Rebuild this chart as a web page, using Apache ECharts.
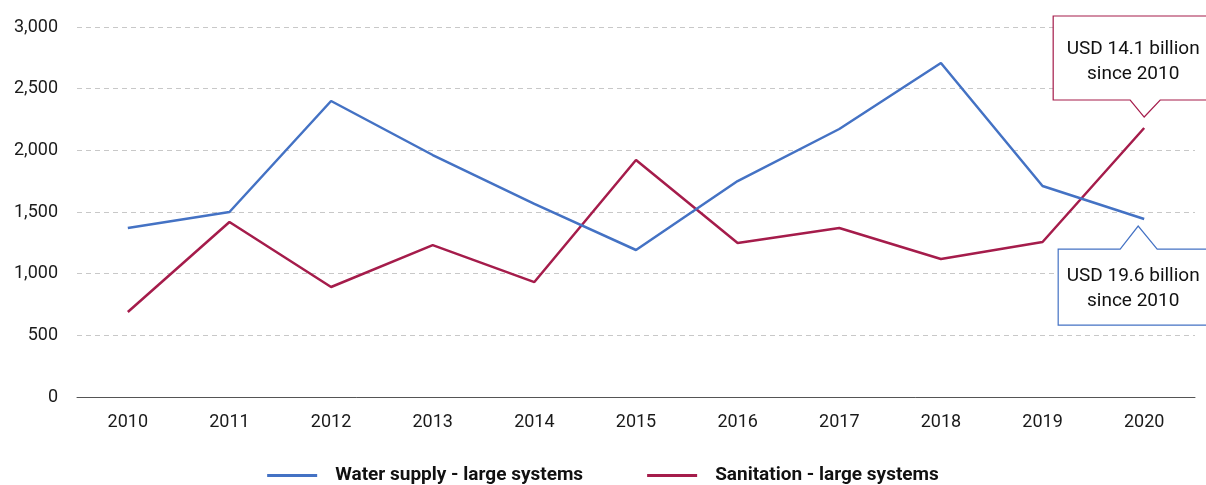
<!DOCTYPE html>
<html>
<head>
<meta charset="utf-8">
<script src="https://cdn.jsdelivr.net/npm/echarts@6/dist/echarts.min.js"></script>
<style>
  html, body { margin: 0; padding: 0; background: #fff; }
  #chart { width: 1206px; height: 485px; }
</style>
</head>
<body>
<div id="chart"></div>
<script>
// Investment in large water and sanitation systems, USD million per year
const years = ['2010', '2011', '2012', '2013', '2014', '2015', '2016', '2017', '2018', '2019', '2020'];
const waterSupply = [1370, 1500, 2400, 1962, 1565, 1192, 1751, 2173, 2708, 1711, 1443];
const sanitation = [689, 1419, 892, 1232, 932, 1922, 1249, 1370, 1119, 1257, 2181];
const seriesNames = ['Water supply - large systems', 'Sanitation - large systems'];
const calloutTexts = ['USD 19.6 billion\nsince 2010', 'USD 14.1 billion\nsince 2010'];

const BLUE = '#4472C4';
const RED = '#A51C4B';
const FONT = 'Roboto, "Noto Sans", sans-serif';

const chart = echarts.init(document.getElementById('chart'), null, { renderer: 'canvas' });

chart.setOption({
  animation: false,
  backgroundColor: '#ffffff',
  grid: { left: 77, right: 11, top: 27, bottom: 88, containLabel: false },
  legend: {
    bottom: -5,
    left: 'center',
    itemWidth: 50,
    itemHeight: 3,
    itemGap: 64,
    icon: 'rect',
    textStyle: { fontFamily: FONT, fontSize: 19, fontWeight: 'bold', color: '#111', padding: [0, 0, 0, 13] },
    data: seriesNames
  },
  xAxis: {
    type: 'category',
    data: years,
    boundaryGap: true,
    axisLine: { show: true, lineStyle: { color: '#555', width: 1 } },
    axisTick: { show: false },
    axisLabel: { color: '#1a1a1a', fontFamily: FONT, fontSize: 18, margin: 16 }
  },
  yAxis: {
    type: 'value',
    min: 0,
    max: 3000,
    interval: 500,
    axisLine: { show: false },
    axisTick: { show: false },
    axisLabel: {
      color: '#1a1a1a', fontFamily: FONT, fontSize: 18, margin: 19,
      formatter: v => v.toLocaleString('en-US')
    },
    splitLine: { show: true, lineStyle: { color: '#c8c8c8', type: [5, 4], width: 1 } }
  },
  series: [
    {
      name: seriesNames[0], type: 'line', data: waterSupply,
      symbol: 'none', lineStyle: { color: BLUE, width: 2.5 }, itemStyle: { color: BLUE }, z: 3
    },
    {
      name: seriesNames[1], type: 'line', data: sanitation,
      symbol: 'none', lineStyle: { color: RED, width: 2.5 }, itemStyle: { color: RED }, z: 2
    }
  ]
});

// Callout boxes anchored to the last point of each series
function callout(seriesIndex, values, text, color, above) {
  const last = values.length - 1;
  const p = chart.convertToPixel({ seriesIndex }, [last, values[last]]);
  const x = p[0], y = p[1];
  let pts, textCenterY;
  if (above) {
    // box above the point, pointer pointing down
    const tipY = y - 11, baseY = y - 28, top = y - 112;
    const left = x - 91, right = x + 80;
    pts = [[left, top], [right, top], [right, baseY], [x + 16, baseY], [x, tipY],
           [x - 14, baseY], [left, baseY]];
    textCenterY = top + 46;
  } else {
    // box below the point, pointer pointing up
    const tipX = x - 6, tipY = y + 7, baseY = y + 30, bottom = y + 106;
    const left = x - 86, right = x + 80;
    pts = [[left, baseY], [tipX - 18, baseY], [tipX, tipY], [tipX + 19, baseY],
           [right, baseY], [right, bottom], [left, bottom]];
    textCenterY = baseY + 40;
  }
  return [
    {
      type: 'polygon',
      shape: { points: pts },
      style: { fill: '#ffffff', stroke: color, lineWidth: 1.2 },
      z: 100
    },
    {
      type: 'text',
      x: x - 11,
      y: textCenterY,
      style: {
        text: text, fill: '#111', font: '19px ' + FONT,
        align: 'center', verticalAlign: 'middle', lineHeight: 25
      },
      z: 101
    }
  ];
}

chart.setOption({
  graphic: [].concat(
    callout(1, sanitation, calloutTexts[1], RED, true),
    callout(0, waterSupply, calloutTexts[0], BLUE, false)
  )
});
</script>
</body>
</html>
